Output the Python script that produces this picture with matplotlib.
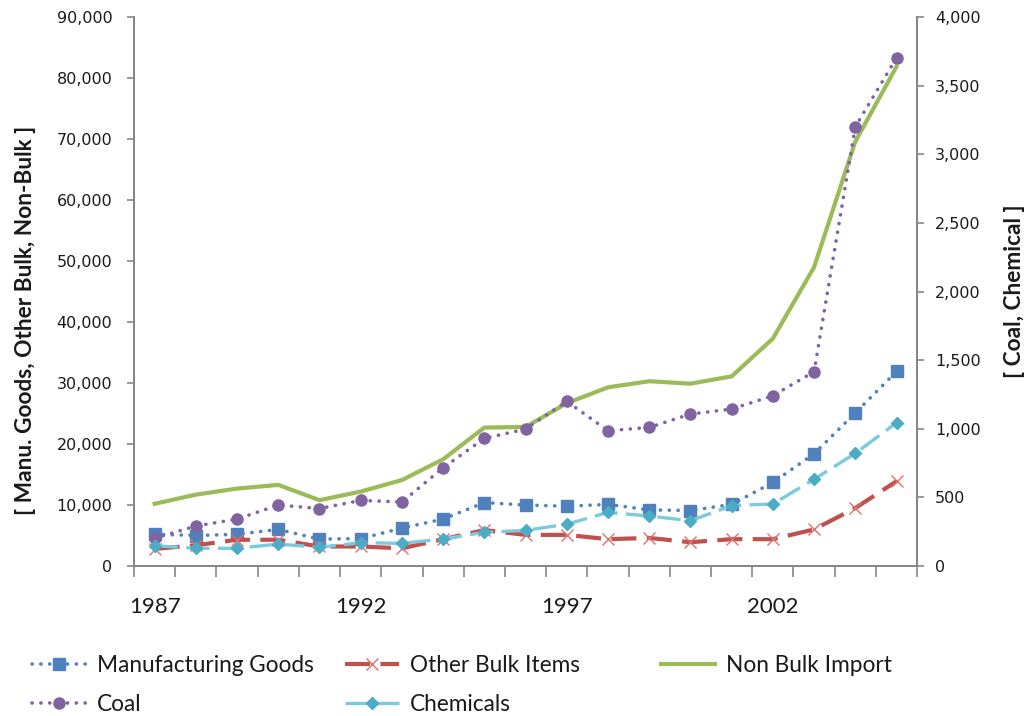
import matplotlib
matplotlib.use("Agg")
import matplotlib.pyplot as plt
from matplotlib.ticker import FuncFormatter, FixedLocator

plt.rcParams['font.family'] = ['Lato', 'DejaVu Sans']

years = list(range(1987, 2006))
year_labels = ["1987", "1992", "1997", "2002"]

# left axis series
manufacturing = [5200, 5000, 5200, 6000, 4400, 4500, 6200, 7700, 10400, 10000,
                 9800, 10100, 9200, 9100, 10100, 13700, 18400, 25100, 31900]
other_bulk = [2800, 3400, 4300, 4300, 3200, 3200, 2900, 4400, 5900, 5100,
              5100, 4400, 4600, 3900, 4400, 4400, 6000, 9500, 13900]
non_bulk = [10200, 11700, 12700, 13300, 10800, 12200, 14100, 17500, 22700, 22800,
            26700, 29300, 30300, 29900, 31100, 37300, 49000, 69600, 81900]

# right axis series
coal = [202, 291, 342, 444, 419, 478, 466, 716, 930, 998,
        1200, 986, 1010, 1107, 1144, 1241, 1416, 3201, 3704]
chemicals = [148, 129, 129, 160, 136, 170, 165, 197, 245, 260,
             304, 391, 364, 330, 440, 452, 632, 821, 1044]

C_MANU = "#4F81BD"
C_OTHER = "#C0504D"
C_NON = "#9BBB59"
C_COAL = "#8064A2"
C_CHEM = "#4BACC6"
C_CHEM_LINE = "#7CCBDD"
AX_GRAY = "#868686"
TXT = "#1a1a1a"

fig = plt.figure(figsize=(10.27, 7.16), dpi=100)
ax = fig.add_axes([0.1305, 0.2095, 0.7625, 0.7665])
ax2 = ax.twinx()

x = list(range(len(years)))

dot = (0, (0.05, 2.4))
l_manu, = ax.plot(x, manufacturing, color=C_MANU, lw=2.6, linestyle=dot,
                  dash_capstyle='round', marker='s', ms=9, mfc=C_MANU, mec=C_MANU,
                  label="Manufacturing Goods", zorder=3)
l_other, = ax.plot(x, other_bulk, color=C_OTHER, lw=3.0, linestyle=(0, (6, 2.5)),
                   marker='x', ms=9, mew=1.0, mec="#E07070",
                   label="Other Bulk Items", zorder=3)
l_non, = ax.plot(x, non_bulk, color=C_NON, lw=3.0, linestyle='-',
                 label="Non Bulk Import", zorder=3)
l_coal, = ax2.plot(x, coal, color=C_COAL, lw=2.6, linestyle=dot,
                   dash_capstyle='round', marker='o', ms=8, mfc=C_COAL, mec=C_COAL,
                   label="Coal", zorder=3)
l_chem, = ax2.plot(x, chemicals, color=C_CHEM_LINE, lw=2.4, linestyle=(0, (7, 2.5)),
                   marker='D', ms=6.5, mfc=C_CHEM, mec=C_CHEM,
                   label="Chemicals", zorder=3)

ax.set_xlim(-0.5, len(years) - 0.5)
ax.set_ylim(0, 90000)
ax2.set_ylim(0, 4000)
ax.set_yticks(range(0, 90001, 10000))
ax2.set_yticks(range(0, 4001, 500))
fmt = FuncFormatter(lambda v, p: f"{int(v):,}")
ax.yaxis.set_major_formatter(fmt)
ax2.yaxis.set_major_formatter(fmt)
for a in (ax, ax2):
    for t in a.get_yticklabels():
        t.set_fontfamily('DejaVu Sans')

label_pos = [years.index(int(y)) for y in year_labels]
ax.xaxis.set_major_locator(FixedLocator(label_pos))
ax.set_xticklabels(year_labels)
ax.xaxis.set_minor_locator(FixedLocator([i - 0.5 for i in range(len(years) + 1)]))
ax.tick_params(axis='x', which='major', length=0, pad=22, labelsize=16, labelcolor=TXT)
ax.tick_params(axis='x', which='minor', length=8, width=1.2, color=AX_GRAY, direction='out')
ax.tick_params(axis='y', length=5, width=1.2, color=AX_GRAY, labelsize=11.5, pad=10.5,
               labelcolor=TXT)
ax2.tick_params(axis='y', length=5, width=1.2, color=AX_GRAY, labelsize=11.5, pad=8,
                labelcolor=TXT)

for a in (ax, ax2):
    a.spines['top'].set_visible(False)
    for s in ('left', 'right', 'bottom'):
        a.spines[s].set_color(AX_GRAY)
        a.spines[s].set_linewidth(1.3)
    a.set_facecolor('none')

ax.set_ylabel("[ Manu. Goods, Other Bulk, Non-Bulk ]", fontsize=16.3, fontweight='bold',
              color=TXT)
ax2.set_ylabel("[ Coal, Chemical ]", fontsize=16.3, fontweight='bold', color=TXT)
ax.yaxis.set_label_coords(-0.125, 0.448)
ax2.yaxis.set_label_coords(1.111, 0.5)

# legend laid out as three evenly spaced columns
legend_cols = [
    ([l_manu, l_coal], 32),
    ([l_other, l_chem], 345),
    ([l_non], 661),
]
W, H = fig.get_size_inches() * fig.dpi
for hs, xpx in legend_cols:
    leg = fig.legend(hs, [h.get_label() for h in hs], loc='upper left',
                     bbox_to_anchor=(xpx / W, 1 - 655 / H), frameon=False,
                     fontsize=16.3, handlelength=2.4, handletextpad=0.45,
                     labelspacing=0.80, borderpad=0, borderaxespad=0)
    for t in leg.get_texts():
        t.set_color(TXT)

fig.savefig("out.png", dpi=100, facecolor='white')
